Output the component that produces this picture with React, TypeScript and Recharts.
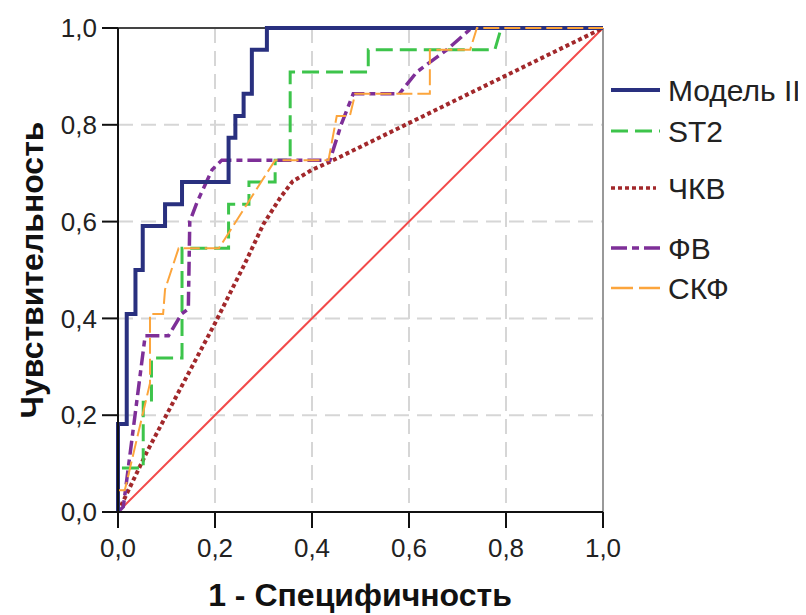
import { LineChart, Line, XAxis, YAxis, CartesianGrid, ReferenceLine, Label } from 'recharts'

const axisTicks = [0, 0.2, 0.4, 0.6, 0.8, 1]
const seriesNames = ['Модель II', 'ST2', 'ЧКВ', 'ФВ', 'СКФ']

// 1 - specificity (x) and sensitivity (y) for each curve
const model2Fpr = [0, 0, 0.018, 0.018, 0.036, 0.036, 0.051, 0.051, 0.097, 0.097, 0.132, 0.132, 0.228, 0.228, 0.242, 0.242, 0.259, 0.259, 0.276, 0.276, 0.307, 0.307, 1]
const model2Tpr = [0, 0.182, 0.182, 0.409, 0.409, 0.5, 0.5, 0.591, 0.591, 0.636, 0.636, 0.682, 0.682, 0.773, 0.773, 0.818, 0.818, 0.864, 0.864, 0.955, 0.955, 1, 1]

const st2Fpr = [0, 0, 0.052, 0.052, 0.069, 0.069, 0.132, 0.132, 0.228, 0.228, 0.27, 0.27, 0.324, 0.324, 0.355, 0.355, 0.516, 0.516, 0.777, 0.79, 1]
const st2Tpr = [0, 0.091, 0.091, 0.227, 0.227, 0.318, 0.318, 0.545, 0.545, 0.636, 0.636, 0.682, 0.682, 0.727, 0.727, 0.909, 0.909, 0.955, 0.955, 1, 1]

const pciFpr = [0, 0.06, 0.2, 0.26, 0.3, 0.335, 0.36, 0.4, 0.44, 1]
const pciTpr = [0, 0.125, 0.39, 0.51, 0.595, 0.65, 0.683, 0.707, 0.725, 1]

const efFpr = [0, 0.011, 0.056, 0.104, 0.131, 0.145, 0.148, 0.163, 0.194, 0.214, 0.437, 0.46, 0.485, 0.58, 0.616, 0.678, 0.729, 1]
const efTpr = [0, 0.011, 0.364, 0.364, 0.409, 0.42, 0.6, 0.64, 0.707, 0.727, 0.727, 0.8, 0.864, 0.864, 0.909, 0.955, 1, 1]

const gfrFpr = [0, 0, 0.014, 0.066, 0.066, 0.093, 0.097, 0.125, 0.208, 0.324, 0.434, 0.451, 0.478, 0.489, 0.643, 0.643, 0.726, 0.74, 1]
const gfrTpr = [0, 0.045, 0.045, 0.266, 0.409, 0.409, 0.46, 0.545, 0.545, 0.727, 0.727, 0.818, 0.818, 0.864, 0.864, 0.955, 0.955, 1, 1]

const refFpr = [0, 1]
const refTpr = [0, 1]

const toPoints = (fpr: number[], tpr: number[]) => fpr.map((x, i) => ({ x, y: tpr[i] }))

const curves = [
  toPoints(model2Fpr, model2Tpr),
  toPoints(st2Fpr, st2Tpr),
  toPoints(pciFpr, pciTpr),
  toPoints(efFpr, efTpr),
  toPoints(gfrFpr, gfrTpr),
]

const styles = [
  { color: '#29307f', width: 4, dash: undefined, legendDash: undefined, legendWidth: 4 },
  { color: '#3dc44b', width: 3, dash: '17 7', legendDash: '17 7', legendWidth: 3 },
  { color: '#a2282b', width: 4, dash: '4 3', legendDash: '4 3', legendWidth: 3.5 },
  { color: '#7e2f98', width: 3.5, dash: '14 5 6 5', legendDash: '16 5 7 5', legendWidth: 3.5 },
  { color: '#fca53c', width: 2, dash: '16 5', legendDash: '22 6', legendWidth: 2.5 },
]
const drawOrder = [2, 1, 3, 0, 4]
const legendRows = [22, 63, 120, 180, 220]

const font = "'Liberation Sans', Arial, sans-serif"
const fmt = (v: number) => v.toFixed(1).replace('.', ',')

export default function App() {
  return (
    <div style={{ position: 'relative', width: 798, height: 607, fontFamily: font }}>
      <LineChart width={798} height={607} margin={{ top: 20, right: 203, bottom: 43, left: 0 }}>
        <CartesianGrid stroke="#d6d6d6" strokeWidth={2} strokeDasharray="15 8" />
        <XAxis
          dataKey="x"
          type="number"
          domain={[0, 1]}
          ticks={axisTicks}
          tickFormatter={fmt}
          height={60}
          tickSize={16}
          tickMargin={11}
          axisLine={{ stroke: '#111', strokeWidth: 2 }}
          tickLine={{ stroke: '#111', strokeWidth: 2 }}
          tick={{ fill: '#222', fontSize: 26, fontFamily: font }}
        >
          <Label
            content={() => (
              <text x={352} y={598} textAnchor="middle" fontSize={32} fontWeight="bold" fill="#111" fontFamily={font}>
                1 - Специфичность
              </text>
            )}
          />
        </XAxis>
        <YAxis
          dataKey="y"
          type="number"
          domain={[0, 1]}
          ticks={axisTicks}
          tickFormatter={fmt}
          width={110}
          tickSize={16}
          tickMargin={5}
          axisLine={{ stroke: '#111', strokeWidth: 2 }}
          tickLine={{ stroke: '#111', strokeWidth: 2 }}
          tick={{ fill: '#222', fontSize: 26, fontFamily: font }}
        >
          <Label
            content={() => (
              <text x={35} y={262} transform="rotate(-90 35 262)" textAnchor="middle" fontSize={32} fontWeight="bold" fill="#111" fontFamily={font}>
                Чувствительность
              </text>
            )}
          />
        </YAxis>
        <ReferenceLine y={1} stroke="#444" strokeWidth={2} />
        <ReferenceLine x={1} stroke="#999" strokeWidth={2} />
        <Line
          data={toPoints(refFpr, refTpr)}
          dataKey="y"
          type="linear"
          stroke="#f24a4a"
          strokeWidth={2}
          dot={false}
          activeDot={false}
          legendType="none"
          isAnimationActive={false}
        />
        {drawOrder.map((i) => (
          <Line
            key={seriesNames[i]}
            name={seriesNames[i]}
            data={curves[i]}
            dataKey="y"
            type="linear"
            stroke={styles[i].color}
            strokeWidth={styles[i].width}
            strokeDasharray={styles[i].dash}
            dot={false}
            activeDot={false}
            isAnimationActive={false}
          />
        ))}
      </LineChart>
      <svg width={198} height={250} style={{ position: 'absolute', left: 600, top: 60, overflow: 'visible' }}>
        {seriesNames.map((name, i) => (
          <g key={name}>
            <line
              x1={3}
              x2={i === 2 ? 48 : 52}
              y1={legendRows[i]}
              y2={legendRows[i]}
              stroke={styles[i].color}
              strokeWidth={styles[i].legendWidth}
              strokeDasharray={styles[i].legendDash}
            />
            <text x={60} y={legendRows[i]} dy="0.36em" fontSize={30} fill="#222" fontFamily={font}>
              {name}
            </text>
          </g>
        ))}
      </svg>
    </div>
  )
}
